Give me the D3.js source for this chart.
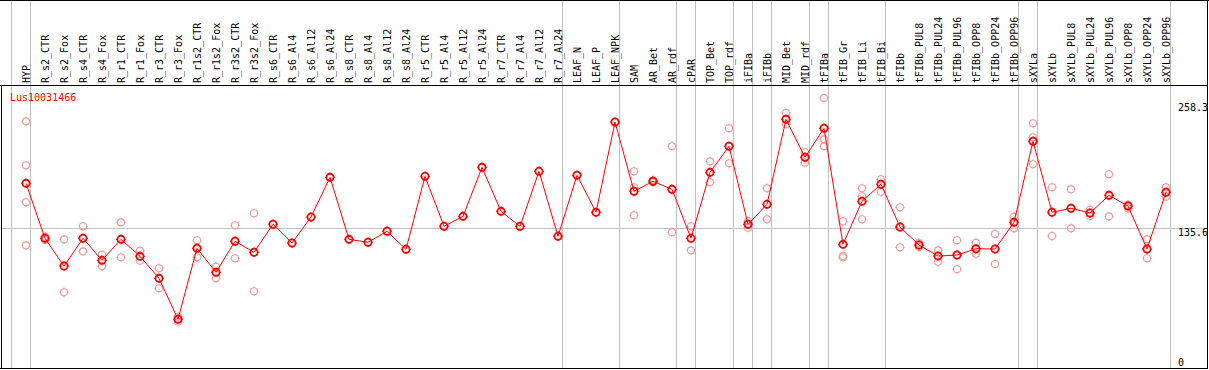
<!DOCTYPE html>
<html>
<head>
<meta charset="utf-8">
<script src="https://cdn.jsdelivr.net/npm/d3@7"></script>
<style>
html, body { margin: 0; padding: 0; background: #fff; overflow: hidden; }
svg { display: block; }
text { font-family: "DejaVu Sans Mono", "Liberation Mono", monospace; font-size: 10px; }
</style>
</head>
<body>
<svg id="chart" width="1209" height="370"></svg>
<script>
const geneName = "Lus10031466";

const categories = [
  "HYP","R_s2_CTR","R_s2_Fox","R_s4_CTR","R_s4_Fox","R_r1_CTR","R_r1_Fox","R_r3_CTR","R_r3_Fox",
  "R_r1s2_CTR","R_r1s2_Fox","R_r3s2_CTR","R_r3s2_Fox","R_s6_CTR","R_s6_Al4","R_s6_Al12","R_s6_Al24",
  "R_s8_CTR","R_s8_Al4","R_s8_Al12","R_s8_Al24","R_r5_CTR","R_r5_Al4","R_r5_Al12","R_r5_Al24",
  "R_r7_CTR","R_r7_Al4","R_r7_Al12","R_r7_Al24","LEAF_N","LEAF_P","LEAF_NPK","SAM","AR_Bet","AR_rdf",
  "cPAR","TOP_Bet","TOP_rdf","iFIBa","iFIBb","MID_Bet","MID_rdf","tFIBa","tFIB_Gr","tFIB_Li","tFIB_Bi",
  "tFIBb","tFIBb_PUL8","tFIBb_PUL24","tFIBb_PUL96","tFIBb_OPP8","tFIBb_OPP24","tFIBb_OPP96",
  "sXYLa","sXYLb","sXYLb_PUL8","sXYLb_PUL24","sXYLb_PUL96","sXYLb_OPP8","sXYLb_OPP24","sXYLb_OPP96"
];

const meanValues = [
  179.4, 125.4, 98.2, 125.4, 103.8, 124.4, 107.7, 86.1, 45.9,
  115.6, 92.0, 122.5, 111.7, 139.2, 120.8, 146.3, 185.3,
  124.4, 121.5, 132.3, 114.6, 186.3, 137.2, 147.0, 195.1,
  151.9, 137.2, 191.2, 127.4, 187.3, 151.0, 239.6, 171.6, 181.4, 173.5,
  125.4, 190.2, 215.8, 139.2, 158.8, 242.3, 205.0, 233.5, 119.5, 161.8, 178.5,
  136.5, 118.8, 108.0, 109.0, 115.2, 114.9, 141.1,
  220.7, 151.0, 154.9, 150.3, 167.6, 157.1, 114.9, 170.6
];

const replicateValues = [
  [240.3, 197.1, 160.8, 118.5], [127.0, 123.8], [124.4, 72.4], [137.2, 112.6], [109.3, 97.9],
  [141.1, 106.8], [113.2, 103.4], [96.0, 76.3], [48.4, 43.5],
  [123.5, 106.8], [97.5, 86.1], [138.2, 105.8], [150.0, 73.4], [], [], [], [],
  [], [], [], [], [], [], [], [],
  [], [], [], [], [], [], [], [191.2, 175.5, 148.0], [182.4, 180.4], [215.8, 131.3],
  [137.2, 113.6], [201.0, 180.4], [233.5, 199.1], [142.4, 135.8], [174.5, 144.1], [248.5, 237.4],
  [209.9, 199.7], [263.2, 222.6, 215.8], [142.1, 108.0, 106.8], [174.5, 166.7, 144.1], [183.4, 171.2],
  [155.9, 116.6], [120.8, 116.9], [113.6, 102.4], [123.5, 95.0], [121.1, 110.3], [129.6, 100.2], [146.6, 135.2],
  [238.4, 224.6, 198.1], [175.5, 127.7], [173.5, 135.2], [153.5, 147.3], [188.3, 147.0], [158.4, 154.9],
  [124.4, 105.8], [175.5, 166.3]
];

// index of the category after which a group separator is drawn (-1 = before the first)
const groupEnds = [-1, 0, 28, 31, 34, 35, 37, 38, 39, 41, 42, 45, 52, 53, 60];
const yTickValues = [258.3, 135.6, 0];
const gridValues = [135.6];

const W = 1209, H = 370;
const headerBottom = 85.5, plotBottom = 368.5, leftEdge = 1.5, rightEdge = 1207.5;

const svg = d3.select("#chart");

const x = d3.scalePoint().domain(categories).range([26, 1166]);
const y = d3.scaleLinear().domain([0, 258.3]).range([366, 103]);
const step = x.step();

// separators
const sepX = i => Math.round((i < 0 ? x(categories[0]) - step : x(categories[i])) + 4.5) - 0.5;
svg.append("g").selectAll("line").data(groupEnds).join("line")
  .attr("x1", d => sepX(d)).attr("x2", d => sepX(d))
  .attr("y1", 0).attr("y2", plotBottom)
  .attr("stroke", "#c0c0c0").attr("stroke-width", 1);

// horizontal grid
svg.append("g").selectAll("line").data(gridValues).join("line")
  .attr("x1", leftEdge).attr("x2", rightEdge)
  .attr("y1", d => Math.round(y(d)) + 0.5).attr("y2", d => Math.round(y(d)) + 0.5)
  .attr("stroke", "#c0c0c0").attr("stroke-width", 1);

// frame
const frame = svg.append("g").attr("stroke", "#000").attr("stroke-width", 1);
frame.append("line").attr("x1", 0).attr("x2", W).attr("y1", 0.5).attr("y2", 0.5);
frame.append("line").attr("x1", 0).attr("x2", rightEdge).attr("y1", headerBottom).attr("y2", headerBottom);
frame.append("line").attr("x1", 0).attr("x2", rightEdge).attr("y1", plotBottom).attr("y2", plotBottom);
frame.append("line").attr("x1", leftEdge).attr("x2", leftEdge).attr("y1", headerBottom).attr("y2", plotBottom);

// header labels
svg.append("g").selectAll("text").data(categories).join("text")
  .attr("transform", d => `translate(${x(d) + 4.2},83) rotate(-90)`)
  .attr("text-anchor", "start")
  .attr("fill", "#000")
  .text(d => d);

// y labels
svg.append("g").selectAll("text").data(yTickValues).join("text")
  .attr("x", 1178)
  .attr("y", d => Math.min(y(d) + 8, 366))
  .attr("fill", "#000")
  .text(d => d);

// title
svg.append("text").attr("x", 10).attr("y", 101).attr("fill", "#ff0000").text(geneName);

// marker helper
function marker(g, r, rt, color, sw) {
  g.append("circle").attr("r", r).attr("fill", "none").attr("stroke", color).attr("stroke-width", sw);
  g.append("path")
    .attr("d", `M0,${-r - rt}V${-r}M0,${r}V${r + rt}M${-r - rt},0H${-r}M${r},0H${r + rt}`)
    .attr("stroke", color).attr("stroke-width", 1).attr("fill", "none");
}

// replicates
const reps = [];
replicateValues.forEach((arr, i) => arr.forEach(v => reps.push({ c: categories[i], v })));
svg.append("g").selectAll("g").data(reps).join("g")
  .attr("transform", d => `translate(${x(d.c)},${y(d.v)})`)
  .each(function () { marker(d3.select(this), 3.5, 1.2, "#f29a9a", 1.1); });

// mean line
const meanData = categories.map((c, i) => ({ c, v: meanValues[i] }));
svg.append("path").datum(meanData)
  .attr("d", d3.line().x(d => x(d.c)).y(d => y(d.v)))
  .attr("fill", "none").attr("stroke", "#ff0000").attr("stroke-width", 1);

svg.append("g").selectAll("g").data(meanData).join("g")
  .attr("transform", d => `translate(${x(d.c)},${y(d.v)})`)
  .each(function () { marker(d3.select(this), 3.6, 1.3, "#ff0000", 1.8); });

// right border on top
svg.append("line").attr("x1", rightEdge).attr("x2", rightEdge).attr("y1", 0).attr("y2", plotBottom + 0.5)
  .attr("stroke", "#000").attr("stroke-width", 1);
</script>
</body>
</html>
